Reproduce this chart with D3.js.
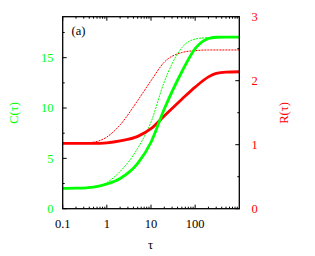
<!DOCTYPE html>
<html><head><meta charset="utf-8">
<script src="https://cdn.jsdelivr.net/npm/d3@7/dist/d3.min.js"></script>
<style>body{margin:0;background:#fff}svg{display:block}text{font-family:"Liberation Serif","Times New Roman",serif}</style>
</head><body><svg id="c" width="315" height="256"></svg>
<script>
const tau      = [0.1, 0.2, 0.5, 1, 2, 5, 10, 20, 50, 100, 200, 300, 500, 1000];
const cSolid   = [2.02, 2.04, 2.15, 2.45, 3.0, 4.5, 6.6, 9.9, 13.6, 15.9, 16.9, 17.03, 17.05, 17.05];
const cDashed  = [2.02, 2.03, 2.12, 2.6, 3.7, 6.0, 8.6, 12.6, 16.0, 16.85, 17.0, 17.03, 17.05, 17.05];
const rSolid   = [1.02, 1.02, 1.02, 1.03, 1.06, 1.13, 1.25, 1.45, 1.71, 1.90, 2.06, 2.115, 2.135, 2.14];
const rDashed  = [1.02, 1.02, 1.04, 1.12, 1.31, 1.69, 2.0, 2.29, 2.44, 2.47, 2.48, 2.48, 2.48, 2.48];
const xTicks = [0.1, 1, 10, 100];
const xTickLabels = ["0.1", "1", "10", "100"];
const cTicks = [0, 5, 10, 15];
const rTicks = [0, 1, 2, 3];

const L = 62.7, R = 239.3, T = 16.7, B = 208.7;
const svg = d3.select("#c");
const x = d3.scaleLog().domain([0.1, 1000]).range([L, R]);
const yC = d3.scaleLinear().domain([0, 19.07]).range([B, T]);
const yR = d3.scaleLinear().domain([0, 3]).range([B, T]);
const green = "#00ff00", red = "#ff0000";

const xMinor = [];
for (let d = 0.1; d < 1000; d *= 10) for (let k = 2; k <= 9; k++) xMinor.push(d * k);

const g = svg.append("g").attr("stroke", "#000").attr("stroke-width", 1);
function tickLines(vals, len, orient) {
  vals.forEach(v => {
    if (orient === "bottom") g.append("line").attr("x1", x(v)).attr("x2", x(v)).attr("y1", B).attr("y2", B - len);
    if (orient === "top") g.append("line").attr("x1", x(v)).attr("x2", x(v)).attr("y1", T).attr("y2", T + len);
  });
}
tickLines(xTicks, 4, "bottom"); tickLines(xTicks, 4, "top");
tickLines(xMinor, 2, "bottom"); tickLines(xMinor, 2, "top");
d3.range(0, 19, 2.5).forEach((v, i) => {
  const len = i % 2 === 0 ? 4 : 2;
  g.append("line").attr("x1", L).attr("x2", L + len).attr("y1", yC(v)).attr("y2", yC(v));
});
d3.range(0, 3.01, 0.5).forEach((v, i) => {
  const len = i % 2 === 0 ? 4 : 2;
  g.append("line").attr("x1", R).attr("x2", R - len).attr("y1", yR(v)).attr("y2", yR(v));
});

const lineC = d3.line().x((d, i) => x(tau[i])).y(d => yC(d)).curve(d3.curveMonotoneX);
const lineR = d3.line().x((d, i) => x(tau[i])).y(d => yR(d)).curve(d3.curveMonotoneX);
svg.append("path").attr("d", lineR(rDashed)).attr("fill", "none").attr("stroke", red).attr("stroke-width", 1).attr("stroke-dasharray", "2,1");
svg.append("path").attr("d", lineC(cDashed)).attr("fill", "none").attr("stroke", green).attr("stroke-width", 1).attr("stroke-dasharray", "2,1");
svg.append("path").attr("d", lineR(rSolid)).attr("fill", "none").attr("stroke", red).attr("stroke-width", 2.8);
svg.append("path").attr("d", lineC(cSolid)).attr("fill", "none").attr("stroke", green).attr("stroke-width", 2.8);

svg.append("rect").attr("x", L).attr("y", T).attr("width", R - L).attr("height", B - T)
  .attr("fill", "none").attr("stroke", "#000").attr("stroke-width", 1.3);

const fs = 12.5;
xTicks.forEach((v, i) => svg.append("text").attr("x", x(v)).attr("y", 228).attr("text-anchor", "middle")
  .attr("font-size", fs).attr("fill", "#000").text(xTickLabels[i]));
cTicks.forEach(v => svg.append("text").attr("x", 53.5).attr("y", yC(v) + 4.3).attr("text-anchor", "end")
  .attr("font-size", fs).attr("fill", green).text(v));
rTicks.forEach(v => svg.append("text").attr("x", 251.5).attr("y", yR(v) + 4.3).attr("text-anchor", "start")
  .attr("font-size", fs).attr("fill", red).text(v));
svg.append("text").attr("x", 150.5).attr("y", 249).attr("text-anchor", "middle").attr("font-size", fs).text("τ");
svg.append("text").attr("transform", "translate(17.5,113) rotate(-90)").attr("text-anchor", "middle")
  .attr("font-size", fs).attr("fill", green).text("C(τ)");
svg.append("text").attr("transform", "translate(287.5,113) rotate(-90)").attr("text-anchor", "middle")
  .attr("font-size", fs).attr("fill", red).text("R(τ)");
svg.append("text").attr("x", 71.5).attr("y", 35).attr("font-size", fs).attr("fill", "#000").text("(a)");
</script></body></html>
